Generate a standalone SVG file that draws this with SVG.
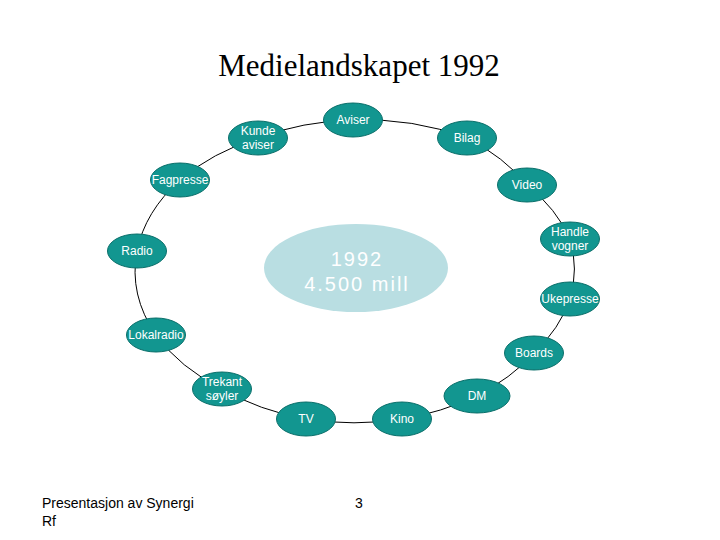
<svg xmlns="http://www.w3.org/2000/svg" width="720" height="540" viewBox="0 0 720 540">
<style>
.node ellipse{fill:#129690;stroke:#0b6f6a;stroke-width:1}
.node text{font-family:"Liberation Sans",Arial,sans-serif;font-size:12px;fill:#ffffff;text-anchor:middle}
.conn path{fill:none;stroke:#000000;stroke-width:1}
.title{font-family:"Liberation Serif","Times New Roman",serif;font-size:31px;fill:#000000;text-anchor:middle}
.foot{font-family:"Liberation Sans",Arial,sans-serif;font-size:14px;fill:#000000}
.center text{font-family:"Liberation Sans",Arial,sans-serif;font-size:20px;fill:#ffffff;text-anchor:middle;letter-spacing:2px}
</style>
<rect width="720" height="540" fill="#ffffff"/>
<text class="title" x="359" y="76">Medielandskapet 1992</text>
<g class="conn" id="connectors">
<path d="M353,120 A216,150 0 0 1 467,138"/>
<path d="M467,138 A216,150 0 0 1 527,185"/>
<path d="M527,185 A216,150 0 0 1 570,239"/>
<path d="M570,239 A216,150 0 0 1 570,299"/>
<path d="M570,299 A216,150 0 0 1 534,353"/>
<path d="M534,353 A216,150 0 0 1 476,396"/>
<path d="M476,396 A216,150 0 0 1 402,419"/>
<path d="M402,419 A216,150 0 0 1 306,419"/>
<path d="M306,419 A216,150 0 0 1 222,389"/>
<path d="M222,389 A216,150 0 0 1 156,335"/>
<path d="M156,335 A216,150 0 0 1 137,251"/>
<path d="M137,251 A216,150 0 0 1 180,180"/>
<path d="M180,180 A216,150 0 0 1 258,138"/>
<path d="M258,138 A216,150 0 0 1 353,120"/>
</g>
<g class="center" id="center">
<ellipse cx="356" cy="268" rx="92" ry="44" fill="#b9dee2"/>
<text x="357" y="266">1992</text>
<text x="357" y="291">4.500 mill</text>
</g>
<g class="node" id="aviser"><ellipse cx="353" cy="120" rx="29.5" ry="17"/><text x="353" y="124">Aviser</text></g>
<g class="node" id="kunde-aviser"><ellipse cx="258" cy="138" rx="29.5" ry="17"/><text x="258" y="135">Kunde</text><text x="258" y="149">aviser</text></g>
<g class="node" id="bilag"><ellipse cx="467" cy="138" rx="29.5" ry="17"/><text x="467" y="142">Bilag</text></g>
<g class="node" id="fagpresse"><ellipse cx="180" cy="180" rx="29.5" ry="17"/><text x="180" y="184">Fagpresse</text></g>
<g class="node" id="video"><ellipse cx="527" cy="185" rx="29.5" ry="17"/><text x="527" y="189">Video</text></g>
<g class="node" id="radio"><ellipse cx="137" cy="251" rx="29.5" ry="17"/><text x="137" y="255">Radio</text></g>
<g class="node" id="handle-vogner"><ellipse cx="570" cy="239" rx="29.5" ry="17"/><text x="570" y="236">Handle</text><text x="570" y="250">vogner</text></g>
<g class="node" id="ukepresse"><ellipse cx="570" cy="299" rx="29.5" ry="17"/><text x="570" y="303">Ukepresse</text></g>
<g class="node" id="lokalradio"><ellipse cx="156" cy="335" rx="29.5" ry="17"/><text x="156" y="339">Lokalradio</text></g>
<g class="node" id="boards"><ellipse cx="534" cy="353" rx="29.5" ry="17"/><text x="534" y="357">Boards</text></g>
<g class="node" id="trekant-soyler"><ellipse cx="222" cy="389" rx="29.5" ry="17"/><text x="222" y="386">Trekant</text><text x="222" y="400">søyler</text></g>
<g class="node" id="dm"><ellipse cx="477" cy="396" rx="33" ry="17"/><text x="477" y="400">DM</text></g>
<g class="node" id="tv"><ellipse cx="306" cy="419" rx="29.5" ry="17"/><text x="306" y="423">TV</text></g>
<g class="node" id="kino"><ellipse cx="402" cy="419" rx="29.5" ry="17"/><text x="402" y="423">Kino</text></g>
<text class="foot" x="42" y="508">Presentasjon av Synergi</text>
<text class="foot" x="42" y="526">Rf</text>
<text class="foot" x="359" y="508" text-anchor="middle">3</text>
</svg>
